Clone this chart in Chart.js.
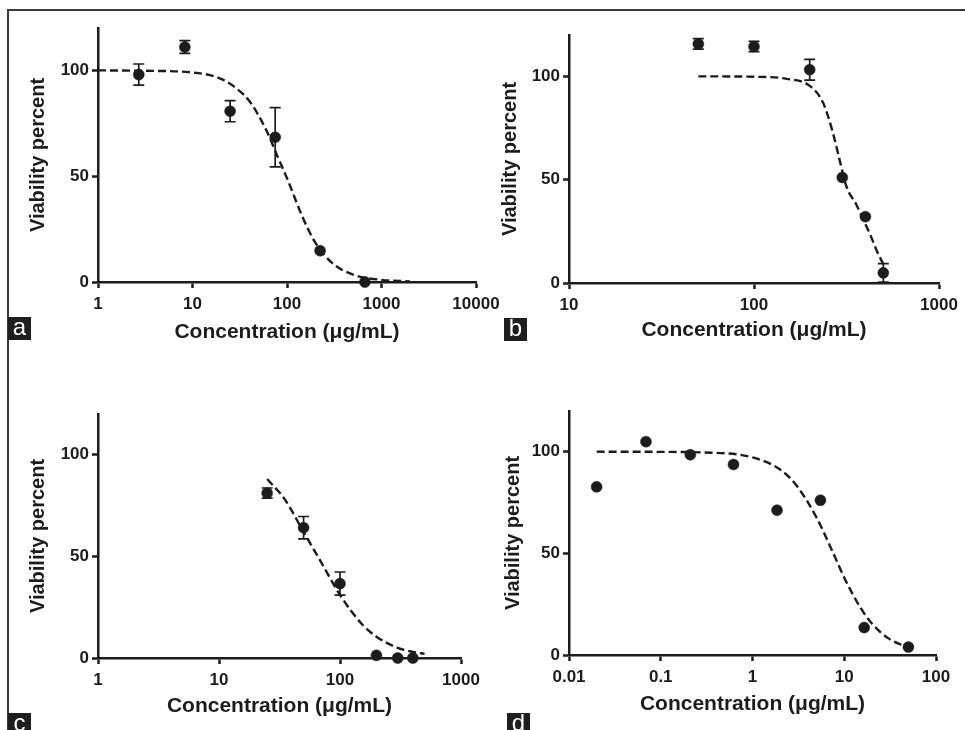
<!DOCTYPE html>
<html lang="en">
<head>
<meta charset="UTF-8">
<title>Viability vs concentration</title>
<script src="https://cdn.jsdelivr.net/npm/chart.js"></script>
<style>
  body { margin: 0; background: #fff; }
  #page { position: relative; width: 965px; height: 730px; overflow: hidden; font-family: "Liberation Sans", Arial, sans-serif; }
  canvas { position: absolute; left: 0; top: 0; }
  .frame { position: absolute; left: 7px; top: 9px; width: 980px; height: 740px; border-top: 2px solid #3a3a3a; border-left: 2px solid #3a3a3a; }
  .tag { position: absolute; width: 23px; height: 23px; background: #1e1e1e; color: #fff; font-size: 24px; line-height: 20px; text-align: center; }
</style>
</head>
<body>
<div id="page">
  <div class="frame"></div>
  <canvas id="chartA" width="965" height="730"></canvas>
  <canvas id="chartB" width="965" height="730"></canvas>
  <canvas id="chartC" width="965" height="730"></canvas>
  <canvas id="chartD" width="965" height="730"></canvas>
  <div class="tag" style="left:8px; top:317px;">a</div>
  <div class="tag" style="left:504px; top:318px;">b</div>
  <div class="tag" style="left:8px; top:713px;">c</div>
  <div class="tag" style="left:507px; top:713px;">d</div>
</div>

<script>
// shared axis values
const yTicks = [0, 50, 100];
const yMax = 120;

// panel a
const xTicksA = [1, 10, 100, 1000, 10000];
const concA = [2.7, 8.3, 25, 75, 224, 668];
const viabA = [98, 111, 80.7, 68.4, 14.8, 0];
const errA = [5, 3, 5, 14, 0, 0];
const fitXA = [1, 3, 10, 20, 30, 40, 60, 80, 100, 150, 200, 300, 500, 1000, 2000];
const fitYA = [100, 99.8, 99, 96, 91, 85.5, 72, 59, 49, 29.5, 18.5, 9, 3.5, 1, 0.3];

// panel b
const xTicksB = [10, 100, 1000];
const concB = [50, 100, 200, 300, 400, 500];
const viabB = [115.7, 114.4, 103.2, 51.1, 32.1, 4.9];
const errB = [2.5, 2.5, 5, 0, 0, 4.5];
const fitXB = [50, 100, 150, 200, 236, 267, 290, 316, 357, 388, 422, 459, 498];
const fitYB = [100, 99.8, 98.8, 95.4, 87.3, 72.7, 59.7, 46.7, 38, 31, 24, 16, 9.4];

// panel c
const xTicksC = [1, 10, 100, 1000];
const concC = [25, 50, 100, 200, 300, 400];
const viabC = [81.1, 64.1, 36.6, 1.3, 0, 0];
const errC = [2.5, 5.5, 5.7, 0, 0, 0];
const fitXC = [25, 35, 50, 70, 100, 150, 200, 300, 400, 500];
const fitYC = [88, 78, 62, 47, 31, 17, 10.5, 5, 3, 2];

// panel d
const xTicksD = [0.01, 0.1, 1, 10, 100];
const concD = [0.02, 0.069, 0.21, 0.62, 1.85, 5.5, 16.5, 50];
const viabD = [82.7, 104.9, 98.5, 93.7, 71.2, 76.1, 13.5, 3.9];
const errD = [0, 0, 0, 0, 0, 0, 0, 0];
const fitXD = [0.02, 0.1, 0.3, 1, 2, 3, 5, 7.6, 10, 15, 20, 30, 50];
const fitYD = [100, 99.9, 99.6, 97.2, 91.2, 83.5, 67.5, 50, 38, 23.3, 15.5, 8.3, 3.6];

const ink = '#1c1c1c';
const tickFont = { family: '"Liberation Sans", Arial, sans-serif', size: 17, weight: 'bold' };
const xTitleFont = { family: '"Liberation Sans", Arial, sans-serif', size: 21, weight: 'bold' };
const yTitleFont = { family: '"Liberation Sans", Arial, sans-serif', size: 20, weight: 'bold' };
const W = 965, H = 730;

// vertical error bars with caps, drawn through the chart scales
const errorBars = {
  id: 'errorBars',
  afterDatasetsDraw(chart) {
    const ds = chart.data.datasets[1];
    const { ctx, scales: { x, y } } = chart;
    ctx.save();
    ctx.strokeStyle = ink;
    ctx.lineWidth = 1.7;
    ds.data.forEach((pt, i) => {
      const e = ds.errors[i];
      if (!e) return;
      const px = x.getPixelForValue(pt.x);
      const top = y.getPixelForValue(pt.y + e);
      const bot = y.getPixelForValue(pt.y - e);
      ctx.beginPath();
      ctx.moveTo(px, top); ctx.lineTo(px, bot);
      ctx.moveTo(px - 5.5, top); ctx.lineTo(px + 5.5, top);
      ctx.moveTo(px - 5.5, bot); ctx.lineTo(px + 5.5, bot);
      ctx.stroke();
    });
    ctx.restore();
  }
};

function axisLook() {
  return {
    grid: { drawOnChartArea: false, drawTicks: true, tickLength: 6, tickWidth: 2.5, tickColor: ink },
    border: { display: true, color: ink, width: 2.5 }
  };
}

// area = [left, top, right, bottom] of the plot box; yTitleX / xTitleY = centre of axis titles
function makePanel(id, p) {
  const pts = p.conc.map((c, i) => ({ x: c, y: p.viab[i] }));
  const fit = p.fitX.map((c, i) => ({ x: c, y: p.fitY[i] }));
  const [L, T, R, B] = p.area;
  return new Chart(document.getElementById(id), {
    type: 'scatter',
    data: {
      datasets: [
        { data: fit, showLine: true, borderColor: ink, borderWidth: 2.4, borderDash: [8, 4],
          pointRadius: 0, cubicInterpolationMode: 'monotone', clip: false },
        { data: pts, pointRadius: 5.5, pointBorderWidth: 0.5, backgroundColor: ink, borderColor: ink,
          clip: false, errors: p.err }
      ]
    },
    options: {
      responsive: false,
      animation: false,
      events: [],
      layout: { padding: { left: 0, top: T, right: W - R, bottom: 0 } },
      plugins: { legend: { display: false }, tooltip: { enabled: false } },
      scales: {
        x: {
          type: 'logarithmic',
          min: p.xTicks[0],
          max: p.xTicks[p.xTicks.length - 1],
          afterBuildTicks: s => { s.ticks = p.xTicks.map(v => ({ value: v })); },
          afterFit: s => { s.height = H - B; },
          ticks: { font: tickFont, color: ink, padding: 6, autoSkip: false, maxRotation: 0,
                   callback: v => String(v) },
          title: { display: true, text: 'Concentration (μg/mL)', font: xTitleFont, color: ink,
                   padding: { top: 0, bottom: H - 12.6 - p.xTitleY } },
          ...axisLook()
        },
        y: {
          min: 0,
          max: yMax,
          afterBuildTicks: s => { s.ticks = yTicks.map(v => ({ value: v })); },
          afterFit: s => { s.width = L; },
          ticks: { font: tickFont, color: ink, padding: 3 },
          title: { display: true, text: 'Viability percent', font: yTitleFont, color: ink,
                   padding: { top: p.yTitleX - 12, bottom: 0 } },
          ...axisLook()
        }
      }
    },
    plugins: [errorBars]
  });
}

makePanel('chartA', { xTicks: xTicksA, conc: concA, viab: viabA, err: errA, fitX: fitXA, fitY: fitYA,
  area: [98, 28, 476, 282], yTitleX: 38, xTitleY: 332 });
makePanel('chartB', { xTicks: xTicksB, conc: concB, viab: viabB, err: errB, fitX: fitXB, fitY: fitYB,
  area: [569, 35, 939, 283], yTitleX: 510, xTitleY: 330 });
makePanel('chartC', { xTicks: xTicksC, conc: concC, viab: viabC, err: errC, fitX: fitXC, fitY: fitYC,
  area: [98, 414, 461, 658], yTitleX: 38, xTitleY: 706 });
makePanel('chartD', { xTicks: xTicksD, conc: concD, viab: viabD, err: errD, fitX: fitXD, fitY: fitYD,
  area: [569, 411, 936, 655], yTitleX: 513, xTitleY: 704 });
</script>
</body>
</html>
